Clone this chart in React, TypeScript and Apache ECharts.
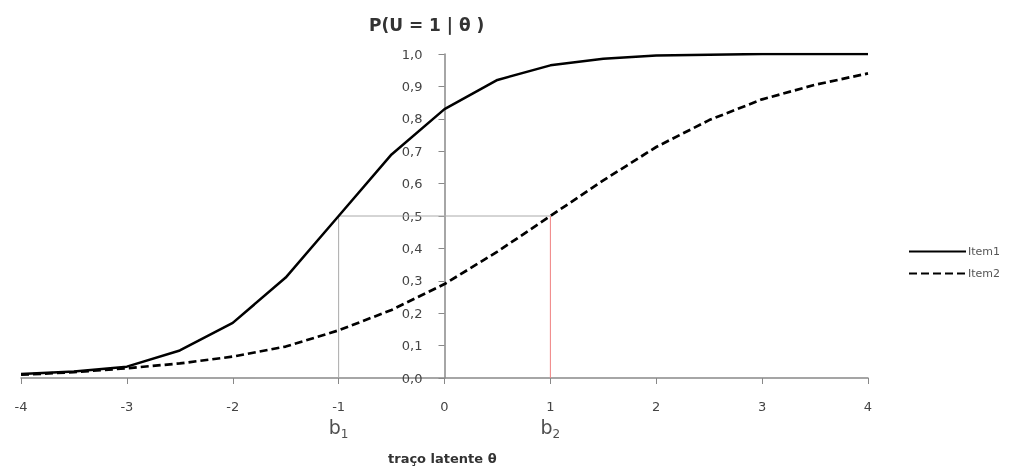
import React, { useEffect, useRef } from "react";
import * as echarts from "echarts";

const thetaValues = [-4, -3.5, -3, -2.5, -2, -1.5, -1, -0.5, 0, 0.5, 1, 1.5, 2, 2.5, 3, 3.5, 4];
const item1Values = [0.012, 0.02, 0.035, 0.085, 0.17, 0.31, 0.5, 0.69, 0.83, 0.92, 0.965, 0.985, 0.995, 0.998, 1.0, 1.0, 1.0];
const item2Values = [0.01, 0.018, 0.03, 0.045, 0.066, 0.097, 0.147, 0.21, 0.29, 0.39, 0.5, 0.61, 0.713, 0.796, 0.86, 0.905, 0.94];
const guideGrayX = [-1, -1, 1];
const guideGrayY = [0, 0.5, 0.5];
const guideRedX = [1, 1];
const guideRedY = [0, 0.5];
const bLabelX = [-1, 1];
const bLabelSub = ["1", "2"];
const xTicks = { min: -4, max: 4, interval: 1 };
const yTicks = { min: 0, max: 1, interval: 0.1 };

const FONT = "DejaVu Sans";
const W = 1021;
const H = 469;
const GRID_LEFT = 21;
const GRID_RIGHT = 153;

export default function App() {
  const ref = useRef<HTMLDivElement>(null);
  useEffect(() => {
    if (!ref.current) return;
    const chart = echarts.init(ref.current, null, { renderer: "svg" });
    const pair = (xs: number[], ys: number[]) => xs.map((x, i) => [x, ys[i]]);
    const plotW = W - GRID_LEFT - GRID_RIGHT;
    const zeroOffset = -((0 - xTicks.min) / (xTicks.max - xTicks.min)) * plotW;
    chart.setOption({
      animation: false,
      textStyle: { fontFamily: FONT },
      grid: { left: GRID_LEFT, right: GRID_RIGHT, top: 54, bottom: 91, containLabel: false },
      legend: {
        data: ["Item1", "Item2"],
        orient: "vertical",
        left: 903,
        top: 241,
        itemWidth: 57,
        itemHeight: 12,
        itemGap: 11,
        itemStyle: { opacity: 0, borderWidth: 0 },
        textStyle: { fontFamily: FONT, fontSize: 11, color: "#555", padding: [0, 0, 0, -3] },
      },
      graphic: [
        {
          type: "text",
          left: 369,
          top: 16,
          style: { text: "P(U = 1 | θ )", font: `bold 17px "${FONT}"`, fill: "#333" },
        },
        {
          type: "text",
          left: 388,
          top: 452,
          style: { text: "traço latente θ", font: `bold 13px "${FONT}"`, fill: "#333" },
        },
      ],
      xAxis: {
        type: "value",
        min: xTicks.min,
        max: xTicks.max,
        interval: xTicks.interval,
        splitLine: { show: false },
        axisLine: { show: true, onZero: false, lineStyle: { color: "#888", width: 1.5 } },
        axisTick: { show: true, length: 6, lineStyle: { color: "#888" } },
        axisLabel: { fontFamily: FONT, fontSize: 13, color: "#444", margin: 22, formatter: (v: number) => String(v) },
      },
      yAxis: {
        type: "value",
        min: yTicks.min,
        max: yTicks.max,
        interval: yTicks.interval,
        offset: zeroOffset,
        splitLine: { show: false },
        axisLine: { show: true, onZero: false, lineStyle: { color: "#888", width: 1.5 } },
        axisTick: { show: true, length: 6, lineStyle: { color: "#888" } },
        axisLabel: {
          fontFamily: FONT,
          fontSize: 13,
          color: "#444",
          margin: 22,
          formatter: (v: number) => v.toFixed(1).replace(".", ","),
        },
      },
      series: [
        {
          name: "guideGray",
          type: "line",
          data: pair(guideGrayX, guideGrayY),
          symbol: "none",
          lineStyle: { color: "#aaa", width: 1 },
          silent: true,
        },
        {
          name: "guideRed",
          type: "line",
          data: pair(guideRedX, guideRedY),
          symbol: "none",
          lineStyle: { color: "#f08080", width: 1 },
          silent: true,
        },
        {
          name: "Item1",
          type: "line",
          data: pair(thetaValues, item1Values),
          symbol: "none",
          itemStyle: { color: "#000" },
          lineStyle: { color: "#000", width: 2.5 },
        },
        {
          name: "Item2",
          type: "line",
          data: pair(thetaValues, item2Values),
          symbol: "none",
          itemStyle: { color: "#000" },
          lineStyle: { color: "#000", width: 2.7, type: [8, 4] },
        },
        {
          name: "bLabels",
          type: "scatter",
          data: bLabelX.map((x, i) => ({ value: [x, 0], sub: bLabelSub[i] })),
          symbolSize: 0,
          silent: true,
          label: {
            show: true,
            position: "bottom",
            distance: 39,
            formatter: (p: any) => `{b|b}{s|${p.data.sub}}`,
            rich: {
              b: { fontFamily: FONT, fontSize: 19, color: "#222", verticalAlign: "bottom" },
              s: { fontFamily: FONT, fontSize: 12, color: "#222", verticalAlign: "bottom", padding: [0, 0, -4, 0] },
            },
          },
        },
      ],
    });
    return () => chart.dispose();
  }, []);
  return <div ref={ref} style={{ position: "fixed", left: 0, top: 0, width: W, height: H }} />;
}
